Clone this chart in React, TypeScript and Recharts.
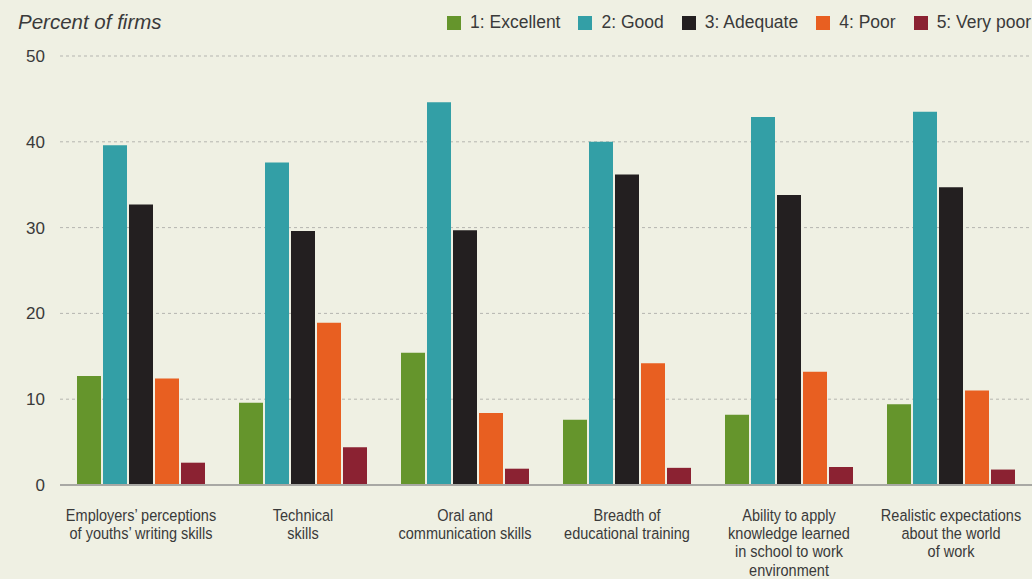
import React from 'react';
import { BarChart, Bar, XAxis, YAxis, CartesianGrid } from 'recharts';

const categories = [
  "Employers’ perceptions\nof youths’ writing skills",
  'Technical\nskills',
  'Oral and\ncommunication skills',
  'Breadth of\neducational training',
  'Ability to apply\nknowledge learned\nin school to work\nenvironment',
  'Realistic expectations\nabout the world\nof work',
];

const excellent = [12.7, 9.6, 15.4, 7.6, 8.2, 9.4];
const good = [39.6, 37.6, 44.6, 40.0, 42.9, 43.5];
const adequate = [32.7, 29.6, 29.7, 36.2, 33.8, 34.7];
const poor = [12.4, 18.9, 8.4, 14.2, 13.2, 11.0];
const veryPoor = [2.6, 4.4, 1.9, 2.0, 2.1, 1.8];

const yTicks = [0, 10, 20, 30, 40, 50];

const series = [
  { key: 'excellent', name: '1: Excellent', color: '#65952C' },
  { key: 'good', name: '2: Good', color: '#339FA6' },
  { key: 'adequate', name: '3: Adequate', color: '#231F20' },
  { key: 'poor', name: '4: Poor', color: '#E85F21' },
  { key: 'veryPoor', name: '5: Very poor', color: '#8B2232' },
];

const data = categories.map((name, i) => ({
  name,
  excellent: excellent[i],
  good: good[i],
  adequate: adequate[i],
  poor: poor[i],
  veryPoor: veryPoor[i],
}));

const FONT = '"Liberation Sans", Arial, sans-serif';
const TEXT = '#3a3a3a';

// category labels are set in a condensed face in the original
const CategoryTick = (props: any) => {
  const { x, y, payload } = props;
  const lines = String(payload.value).split('\n');
  return (
    <g transform={`translate(${x},${y}) scale(0.88,1)`}>
      {lines.map((line: string, i: number) => (
        <text key={i} x={0} y={28 + i * 18.2} textAnchor="middle" fill={TEXT} fontSize={16.5} fontFamily={FONT}>
          {line}
        </text>
      ))}
    </g>
  );
};

const LegendBox = () => (
  <div
    style={{
      position: 'absolute',
      right: 1,
      top: 12,
      display: 'flex',
      alignItems: 'center',
      fontFamily: FONT,
      fontSize: 17.5,
      color: TEXT,
      whiteSpace: 'nowrap',
    }}
  >
    {series.map((s, i) => (
      <div key={s.key} style={{ display: 'flex', alignItems: 'center', marginLeft: i === 0 ? 0 : 18 }}>
        <span style={{ display: 'inline-block', width: 14, height: 14, background: s.color, marginRight: 9 }} />
        <span>{s.name}</span>
      </div>
    ))}
  </div>
);

export default function App() {
  return (
    <div style={{ position: 'absolute', left: 0, top: 0, width: 1032, height: 579, background: '#EFF0E3' }}>
      <div
        style={{
          position: 'absolute',
          left: 18,
          top: 10,
          fontFamily: FONT,
          fontStyle: 'italic',
          fontSize: 20.5,
          color: TEXT,
        }}
      >
        Percent of firms
      </div>
      <LegendBox />
      <BarChart
        width={1032}
        height={579}
        data={data}
        margin={{ top: 56, right: 0, bottom: 0, left: 0 }}
        barCategoryGap={17}
        barGap={2}
      >
        <CartesianGrid vertical={false} stroke="#b5b5b0" strokeDasharray="3 3" />
        <XAxis
          dataKey="name"
          interval={0}
          tickLine={false}
          axisLine={{ stroke: '#a8a8a4', strokeWidth: 2 }}
          tick={<CategoryTick />}
          height={94}
        />
        <YAxis
          domain={[0, 50]}
          ticks={yTicks}
          width={60}
          axisLine={false}
          tickLine={false}
          tickSize={0}
          tickMargin={15}
          tick={{ fill: TEXT, fontSize: 17, fontFamily: FONT }}
        />
        {series.map((s) => (
          <Bar key={s.key} dataKey={s.key} name={s.name} fill={s.color} isAnimationActive={false} />
        ))}
      </BarChart>
    </div>
  );
}
